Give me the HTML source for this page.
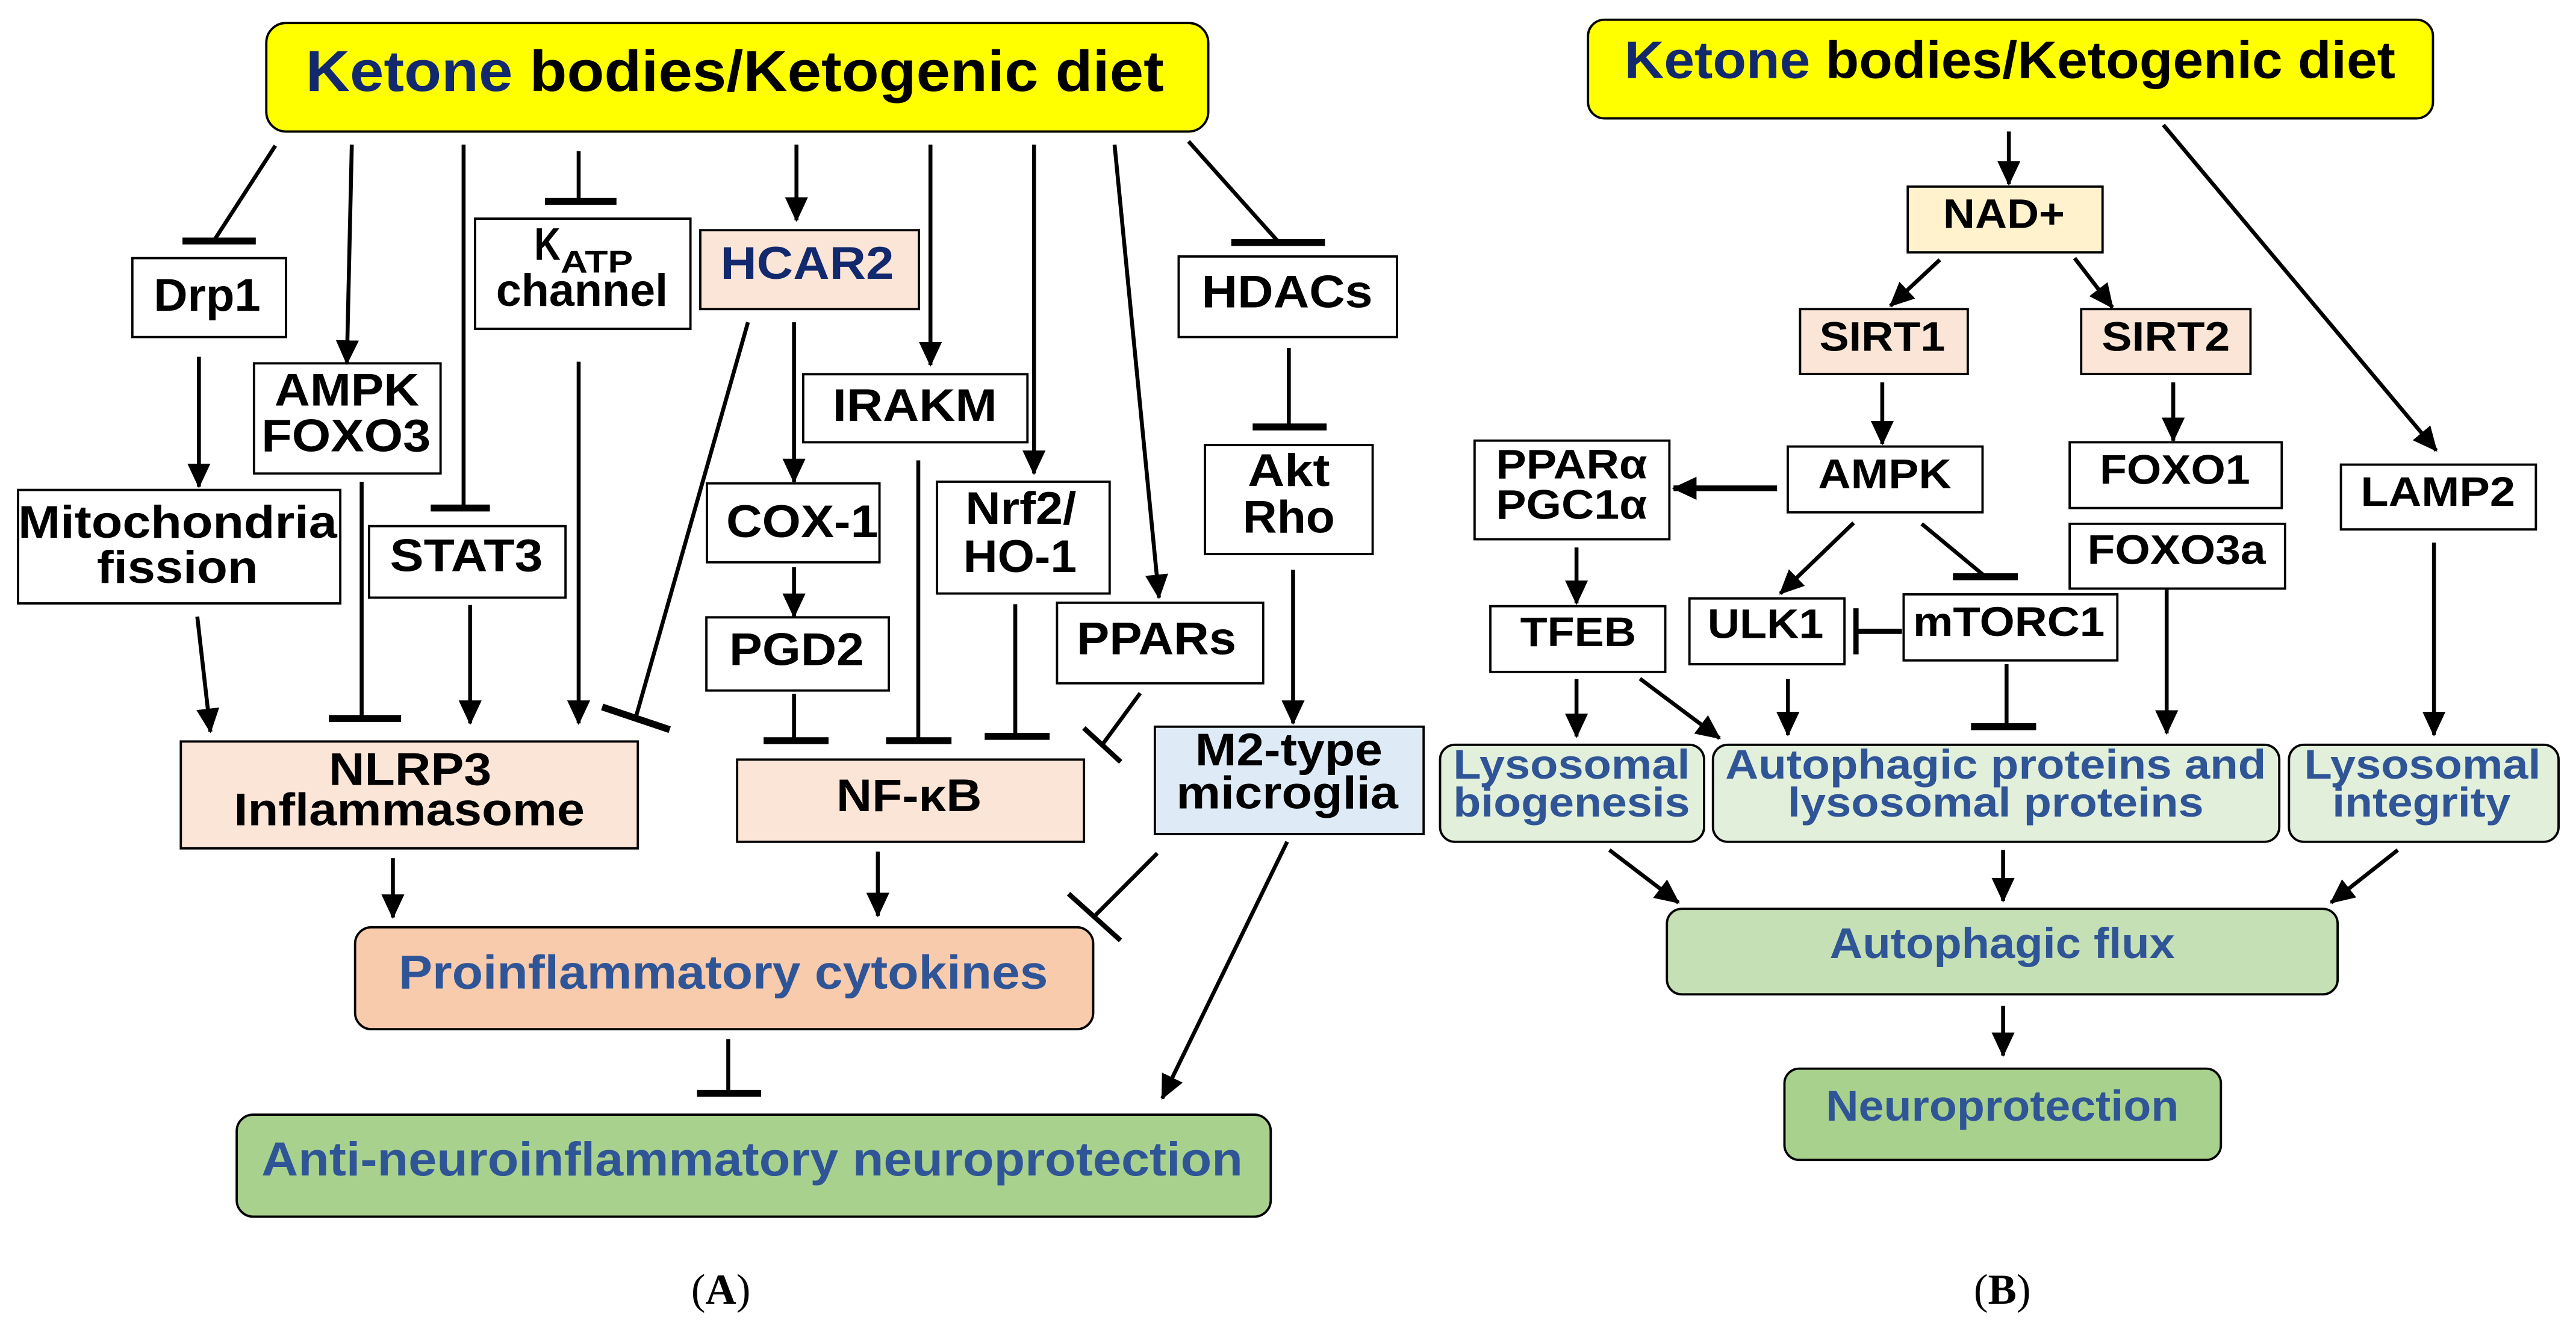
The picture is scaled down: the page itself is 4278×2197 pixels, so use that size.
<!DOCTYPE html>
<html><head><meta charset="utf-8"><style>
html,body{margin:0;padding:0;background:#fff;}
svg{display:block;}
text{font-family:"Liberation Sans",Arial,sans-serif;font-weight:bold;}
</style></head><body>
<svg width="4278" height="2197" viewBox="0 0 1567 804.7" preserveAspectRatio="none" xmlns="http://www.w3.org/2000/svg">
<defs>
<marker id="a" markerUnits="userSpaceOnUse" markerWidth="15" markerHeight="14" refX="14" refY="7" orient="auto">
<path d="M0,0 L15,7 L0,14 z" fill="#000"/>
</marker>
</defs>
<rect width="1567" height="805" fill="#fff"/>
<g stroke="#000" stroke-width="1.4">
<rect x="162" y="14" width="573" height="66" rx="12" fill="#ffff00"/>
<rect x="80.5" y="157" width="93.5" height="48" fill="#fff"/>
<rect x="154.5" y="221" width="113.5" height="67" fill="#fff"/>
<rect x="11" y="298" width="196" height="69" fill="#fff"/>
<rect x="224.5" y="320" width="119.5" height="43.5" fill="#fff"/>
<rect x="289" y="133" width="131" height="67" fill="#fff"/>
<rect x="426" y="140" width="133" height="48" fill="#fbe5d6"/>
<rect x="488.6" y="227.6" width="136.4" height="41.4" fill="#fff"/>
<rect x="430" y="294" width="105" height="48" fill="#fff"/>
<rect x="570" y="293" width="105" height="68" fill="#fff"/>
<rect x="429.7" y="375.5" width="111" height="44.5" fill="#fff"/>
<rect x="643" y="366.6" width="125.4" height="49" fill="#fff"/>
<rect x="717" y="156" width="132.8" height="49" fill="#fff"/>
<rect x="733" y="270.7" width="102" height="66.3" fill="#fff"/>
<rect x="702.5" y="442" width="163.5" height="65.3" fill="#deebf7"/>
<rect x="110" y="451" width="278" height="65" fill="#fbe5d6"/>
<rect x="448.4" y="462" width="211" height="50" fill="#fbe5d6"/>
<rect x="216" y="564" width="449" height="62" rx="10" fill="#f8cbad"/>
<rect x="144" y="678" width="629" height="62" rx="10" fill="#a9d18e"/>
<rect x="966" y="12" width="514" height="60" rx="10" fill="#ffff00"/>
<rect x="1160.5" y="113.5" width="118.5" height="40" fill="#fff2cc"/>
<rect x="1095" y="188" width="102" height="39.5" fill="#fbe5d6"/>
<rect x="1266" y="188" width="103" height="39.5" fill="#fbe5d6"/>
<rect x="1087.5" y="271.6" width="118.5" height="40" fill="#fff"/>
<rect x="1259" y="269" width="129" height="40" fill="#fff"/>
<rect x="1259" y="318.6" width="131" height="39.4" fill="#fff"/>
<rect x="1424" y="282.6" width="118.6" height="39.4" fill="#fff"/>
<rect x="897" y="268" width="118.5" height="60" fill="#fff"/>
<rect x="906.6" y="368.7" width="106.4" height="40" fill="#fff"/>
<rect x="1027.7" y="364" width="94.3" height="40" fill="#fff"/>
<rect x="1158" y="361.5" width="130" height="40.2" fill="#fff"/>
<rect x="876" y="453" width="160.6" height="59" rx="9" fill="#e2efda"/>
<rect x="1042" y="453" width="344.5" height="59" rx="9" fill="#e2efda"/>
<rect x="1392.4" y="453" width="164" height="59" rx="9" fill="#e2efda"/>
<rect x="1014" y="552.8" width="408" height="52" rx="9" fill="#c5e0b4"/>
<rect x="1085.5" y="650" width="265.5" height="55.5" rx="9" fill="#a9d18e"/>
</g>

<g stroke="#000" stroke-width="2.4" fill="none">
<line x1="167.5" y1="88.6" x2="130" y2="146.6"/>
<line x1="214" y1="88" x2="211" y2="221" marker-end="url(#a)"/>
<line x1="282" y1="88" x2="282" y2="309"/>
<line x1="352" y1="92" x2="352" y2="122.5"/>
<line x1="484.5" y1="88" x2="484.5" y2="134" marker-end="url(#a)"/>
<line x1="566" y1="88" x2="566" y2="222" marker-end="url(#a)"/>
<line x1="629" y1="88" x2="629" y2="288" marker-end="url(#a)"/>
<line x1="678" y1="88" x2="705" y2="363.5" marker-end="url(#a)"/>
<line x1="723" y1="86" x2="778" y2="147.5"/>
<line x1="784" y1="211.7" x2="784" y2="259.7"/>
<line x1="786.6" y1="346.5" x2="786.6" y2="440" marker-end="url(#a)"/>
<line x1="121" y1="217" x2="121" y2="296" marker-end="url(#a)"/>
<line x1="120" y1="375" x2="128" y2="445" marker-end="url(#a)"/>
<line x1="220" y1="293" x2="220" y2="437"/>
<line x1="286" y1="368" x2="286" y2="440" marker-end="url(#a)"/>
<line x1="352" y1="220" x2="352" y2="440" marker-end="url(#a)"/>
<line x1="455" y1="196" x2="387.2" y2="434.8"/>
<line x1="483" y1="196" x2="483" y2="293" marker-end="url(#a)"/>
<line x1="483" y1="345" x2="483" y2="375" marker-end="url(#a)"/>
<line x1="483" y1="422" x2="483" y2="450.5"/>
<line x1="558.6" y1="280" x2="558.6" y2="450.5"/>
<line x1="617.6" y1="367.5" x2="617.6" y2="447.9"/>
<line x1="693.6" y1="421.6" x2="670.5" y2="453"/>
<line x1="239" y1="522" x2="239" y2="558" marker-end="url(#a)"/>
<line x1="534" y1="518" x2="534" y2="557" marker-end="url(#a)"/>
<line x1="704" y1="519" x2="665" y2="558"/>
<line x1="783" y1="512" x2="707" y2="668" marker-end="url(#a)"/>
<line x1="443" y1="632" x2="443" y2="665"/>
<line x1="1222" y1="80" x2="1222" y2="112" marker-end="url(#a)"/>
<line x1="1180" y1="158" x2="1150" y2="186" marker-end="url(#a)"/>
<line x1="1262" y1="157" x2="1285" y2="187" marker-end="url(#a)"/>
<line x1="1145" y1="232.6" x2="1145" y2="270" marker-end="url(#a)"/>
<line x1="1322" y1="232.6" x2="1322" y2="268" marker-end="url(#a)"/>
<line x1="1316" y1="76" x2="1482" y2="274" marker-end="url(#a)"/>
<line x1="1081" y1="297" x2="1018" y2="297" marker-end="url(#a)" stroke-width="3.5"/>
<line x1="959" y1="333" x2="959" y2="367" marker-end="url(#a)"/>
<line x1="1127.6" y1="318" x2="1083" y2="361" marker-end="url(#a)"/>
<line x1="1169" y1="318.6" x2="1207.8" y2="350.8"/>
<line x1="1157" y1="384" x2="1129" y2="384" stroke-width="3.2"/>
<line x1="959" y1="413" x2="959" y2="448" marker-end="url(#a)"/>
<line x1="997.6" y1="412.8" x2="1046" y2="449" marker-end="url(#a)"/>
<line x1="1087.6" y1="413" x2="1087.6" y2="447" marker-end="url(#a)"/>
<line x1="1220.6" y1="404" x2="1220.6" y2="442"/>
<line x1="1318" y1="358" x2="1318" y2="446" marker-end="url(#a)"/>
<line x1="1480.6" y1="330" x2="1480.6" y2="447" marker-end="url(#a)"/>
<line x1="979" y1="517" x2="1021" y2="549" marker-end="url(#a)"/>
<line x1="1218.5" y1="517" x2="1218.5" y2="548" marker-end="url(#a)"/>
<line x1="1458.6" y1="517" x2="1418" y2="549" marker-end="url(#a)"/>
<line x1="1218.5" y1="611.8" x2="1218.5" y2="642" marker-end="url(#a)"/>
</g>

<g stroke="#000" stroke-width="4.2" fill="none">
<line x1="111" y1="146.6" x2="155.6" y2="146.6"/>
<line x1="262" y1="309" x2="298" y2="309"/>
<line x1="331.5" y1="122.5" x2="375" y2="122.5"/>
<line x1="749" y1="147.5" x2="806" y2="147.5"/>
<line x1="762" y1="259.7" x2="807" y2="259.7"/>
<line x1="200" y1="437" x2="244" y2="437"/>
<line x1="366.3" y1="430" x2="407.4" y2="443.8"/>
<line x1="464.5" y1="450.5" x2="504" y2="450.5"/>
<line x1="539" y1="450.5" x2="578.8" y2="450.5"/>
<line x1="599" y1="447.9" x2="638.5" y2="447.9"/>
<line x1="659.3" y1="442.8" x2="681.7" y2="463.4" stroke-width="3"/>
<line x1="650" y1="543.6" x2="681.6" y2="572" stroke-width="3"/>
<line x1="424" y1="665" x2="463" y2="665"/>
<line x1="1188" y1="350.8" x2="1227.5" y2="350.8"/>
<line x1="1129" y1="370" x2="1129" y2="398" stroke-width="3.2"/>
<line x1="1199" y1="442" x2="1238.6" y2="442"/>
</g>

<g font-size="28" fill="#000" text-anchor="middle">
<text x="447" y="55.3" font-size="35" textLength="522" lengthAdjust="spacingAndGlyphs"><tspan fill="#12296e">Ketone</tspan> bodies/Ketogenic diet</text>
<text x="126" y="189" textLength="65" lengthAdjust="spacingAndGlyphs">Drp1</text>
<text x="211" y="246.6" textLength="88" lengthAdjust="spacingAndGlyphs">AMPK</text>
<text x="210.5" y="274.5" textLength="103" lengthAdjust="spacingAndGlyphs">FOXO3</text>
<text x="108" y="327" textLength="194" lengthAdjust="spacingAndGlyphs">Mitochondria</text>
<text x="108" y="354.6" textLength="98" lengthAdjust="spacingAndGlyphs">fission</text>
<text x="283.7" y="347.4" textLength="93" lengthAdjust="spacingAndGlyphs">STAT3</text>
<text x="325" y="158" text-anchor="start" textLength="16" lengthAdjust="spacingAndGlyphs">K</text>
<text x="341" y="165.7" text-anchor="start" font-size="19" textLength="44" lengthAdjust="spacingAndGlyphs">ATP</text>
<text x="354" y="186" textLength="104.5" lengthAdjust="spacingAndGlyphs">channel</text>
<text x="491" y="169.6" fill="#12296e" textLength="105.5" lengthAdjust="spacingAndGlyphs">HCAR2</text>
<text x="556.5" y="256" textLength="100" lengthAdjust="spacingAndGlyphs">IRAKM</text>
<text x="488" y="326.8" textLength="92.5" lengthAdjust="spacingAndGlyphs">COX-1</text>
<text x="621" y="318.6" textLength="67.5" lengthAdjust="spacingAndGlyphs">Nrf2/</text>
<text x="620.5" y="348" textLength="69" lengthAdjust="spacingAndGlyphs">HO-1</text>
<text x="484.6" y="404.5" textLength="82" lengthAdjust="spacingAndGlyphs">PGD2</text>
<text x="703.5" y="398" textLength="97" lengthAdjust="spacingAndGlyphs">PPARs</text>
<text x="783" y="187" textLength="104" lengthAdjust="spacingAndGlyphs">HDACs</text>
<text x="784" y="295.6" textLength="50" lengthAdjust="spacingAndGlyphs">Akt</text>
<text x="784" y="324" textLength="56" lengthAdjust="spacingAndGlyphs">Rho</text>
<text x="784" y="465.5" textLength="114" lengthAdjust="spacingAndGlyphs">M2-type</text>
<text x="783" y="491.8" textLength="135" lengthAdjust="spacingAndGlyphs">microglia</text>
<text x="249.5" y="477.4" textLength="99" lengthAdjust="spacingAndGlyphs">NLRP3</text>
<text x="249" y="502" textLength="213.5" lengthAdjust="spacingAndGlyphs">Inflammasome</text>
<text x="553" y="493.4" textLength="88.5" lengthAdjust="spacingAndGlyphs">NF-κB</text>
<text x="440" y="601.3" font-size="29" fill="#2f5597" textLength="395" lengthAdjust="spacingAndGlyphs">Proinflammatory cytokines</text>
<text x="457.5" y="715" font-size="29" fill="#2f5597" textLength="597" lengthAdjust="spacingAndGlyphs">Anti-neuroinflammatory neuroprotection</text>
</g>

<g font-size="25" fill="#000" text-anchor="middle">
<text x="1222.6" y="47.5" font-size="32" textLength="469" lengthAdjust="spacingAndGlyphs"><tspan fill="#12296e">Ketone</tspan> bodies/Ketogenic diet</text>
<text x="1219" y="138.7" textLength="74" lengthAdjust="spacingAndGlyphs">NAD+</text>
<text x="1145" y="213.3" textLength="76.5" lengthAdjust="spacingAndGlyphs">SIRT1</text>
<text x="1317.5" y="213.3" textLength="78" lengthAdjust="spacingAndGlyphs">SIRT2</text>
<text x="1146.5" y="296.8" textLength="81" lengthAdjust="spacingAndGlyphs">AMPK</text>
<text x="1323" y="294.3" textLength="91.5" lengthAdjust="spacingAndGlyphs">FOXO1</text>
<text x="1324" y="343" textLength="108.5" lengthAdjust="spacingAndGlyphs">FOXO3a</text>
<text x="1483" y="307.6" textLength="94" lengthAdjust="spacingAndGlyphs">LAMP2</text>
<text x="956" y="291" textLength="92" lengthAdjust="spacingAndGlyphs">PPARα</text>
<text x="956" y="315.5" textLength="92" lengthAdjust="spacingAndGlyphs">PGC1α</text>
<text x="960" y="393" textLength="70.5" lengthAdjust="spacingAndGlyphs">TFEB</text>
<text x="1074" y="388" textLength="70.6" lengthAdjust="spacingAndGlyphs">ULK1</text>
<text x="1222" y="386.7" textLength="116.6" lengthAdjust="spacingAndGlyphs">mTORC1</text>
<g fill="#2f5597">
<text x="956" y="473.6" textLength="144" lengthAdjust="spacingAndGlyphs">Lysosomal</text>
<text x="956" y="496.7" textLength="144" lengthAdjust="spacingAndGlyphs">biogenesis</text>
<text x="1214" y="473.6" textLength="329" lengthAdjust="spacingAndGlyphs">Autophagic proteins and</text>
<text x="1214" y="496.7" textLength="253" lengthAdjust="spacingAndGlyphs">lysosomal proteins</text>
<text x="1473.6" y="473.6" textLength="144" lengthAdjust="spacingAndGlyphs">Lysosomal</text>
<text x="1473" y="496.7" textLength="108.5" lengthAdjust="spacingAndGlyphs">integrity</text>
<text x="1218" y="582.8" font-size="26" textLength="210" lengthAdjust="spacingAndGlyphs">Autophagic flux</text>
<text x="1218" y="681.7" font-size="26" textLength="214.7" lengthAdjust="spacingAndGlyphs">Neuroprotection</text>
</g>
</g>

<g font-size="26" fill="#000" text-anchor="middle">
<text x="438.5" y="793" style="font-family:'Liberation Serif',serif;font-weight:normal">(<tspan style="font-weight:bold">A</tspan>)</text>
<text x="1218" y="793" style="font-family:'Liberation Serif',serif;font-weight:normal">(<tspan style="font-weight:bold">B</tspan>)</text>
</g>
</svg>
</body></html>
